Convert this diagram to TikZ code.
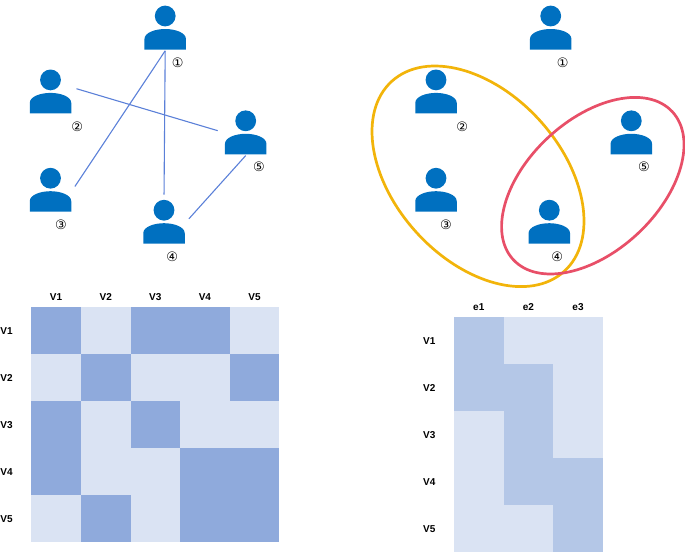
\documentclass[tikz,border=0pt]{standalone}
\usepackage{fontspec}
\setmainfont{Liberation Sans}
\newfontfamily\circfont{DejaVu Sans}
\usetikzlibrary{shapes.geometric}
\definecolor{personblue}{HTML}{0070C0}
\definecolor{edgeblue}{HTML}{5B80D8}
\definecolor{cellpale}{HTML}{DAE3F3}
\definecolor{celldark}{HTML}{8FAADC}
\definecolor{cellmid}{HTML}{B4C7E7}
\definecolor{hyperyellow}{HTML}{F2B40A}
\definecolor{hyperred}{HTML}{E84F68}
\tikzset{
	personnode/.style={rectangle, inner sep=0pt, minimum width=44pt, minimum height=46pt, path picture={
		\begin{scope}[shift={(path picture bounding box.center)}]
		\fill[personblue] (0,-11.6) circle (10.4pt);
		\fill[personblue] (-20.75,21.9) -- (-20.75,11.5) .. controls (-20.75,5) and (-10,1.4) .. (0,1.4) .. controls (10,1.4) and (20.75,5) .. (20.75,11.5) -- (20.75,21.9) -- cycle;
		\end{scope}}},
	numnode/.style={inner sep=0pt, font=\circfont\fontsize{13}{13}\selectfont},
	cellnode/.style={rectangle, inner sep=0pt, minimum width=49.6pt, minimum height=46.9pt},
	headnode/.style={inner sep=0pt, font=\bfseries\fontsize{10}{10}\selectfont}
}
\begin{document}
\begin{tikzpicture}[x=1pt,y=-1pt,edgeline/.style={edgeblue,line width=1.1pt}]
	\useasboundingbox (0,0) rectangle (685,552);
	% plain graph
	\path
	+(165.2,27.6)  node[personnode]  (a1) {}
	+(50.5,91.5)  node[personnode]  (a2) {}
	+(50.5,189.8)  node[personnode]  (a3) {}
	+(164,221.8)  node[personnode]  (a4) {}
	+(245.7,132.4)  node[personnode]  (a5) {}
	+(177.7,62.3)  node[numnode]  (na1) {①}
	+(77.3,126.7)  node[numnode]  (na2) {②}
	+(61,224.7)  node[numnode]  (na3) {③}
	+(172.3,256.3)  node[numnode]  (na4) {④}
	+(259,167)  node[numnode]  (na5) {⑤}
	;
	\draw[edgeline,shorten >=4pt] (a1.south)--(a3.east);
	\draw[edgeline,shorten >=4pt] (a1.south)--(a4.north);
	\draw[edgeline,shorten <=4pt,shorten >=6pt] (a2.10)--(a5.west);
	\draw[edgeline,shorten >=4pt] (a5.south)--(a4.east);
	% hypergraph
	\path
	+(550.7,27.6)  node[personnode]  (b1) {}
	+(436,91.5)  node[personnode]  (b2) {}
	+(436,189.8)  node[personnode]  (b3) {}
	+(549.3,221.8)  node[personnode]  (b4) {}
	+(631.3,132.4)  node[personnode]  (b5) {}
	+(562.7,62.3)  node[numnode]  (nb1) {①}
	+(462.3,126.7)  node[numnode]  (nb2) {②}
	+(446,224.7)  node[numnode]  (nb3) {③}
	+(557.3,256.3)  node[numnode]  (nb4) {④}
	+(644,167)  node[numnode]  (nb5) {⑤}
	+(478,176.3)  node[ellipse,draw=hyperyellow,line width=2.7pt,inner sep=0pt,minimum width=256.6pt,minimum height=166.6pt,rotate=-47.8]  (e1) {}
	+(592.8,185.7)  node[ellipse,draw=hyperred,line width=2.7pt,inner sep=0pt,minimum width=217.2pt,minimum height=131.4pt,rotate=43]  (e2) {}
	;
	% adjacency matrix
	\foreach \r in {1,...,5} {
		\node[headnode] (cv\r) at ({31.3+49.6*(\r-0.5)},297.3) {V\r};
		\node[headnode] (rv\r) at (6.5,{307.6+46.9*(\r-0.5)}) {V\r};
		\foreach \c in {1,...,5}
			\node[cellnode,fill=cellpale] (m\r\c) at ({31.3+49.6*(\c-0.5)},{307+46.9*(\r-0.5)}) {};
	}
	\foreach \r/\c in {1/1,1/3,1/4,2/2,2/5,3/1,3/3,4/1,4/4,4/5,5/2,5/4,5/5}
		\node[cellnode,fill=celldark] (d\r\c) at ({31.3+49.6*(\c-0.5)},{307+46.9*(\r-0.5)}) {};
	% incidence matrix
	\foreach \c in {1,2,3}
		\node[headnode] (ce\c) at ({454+49.6*(\c-0.5)},307.3) {e\c};
	\foreach \r in {1,...,5} {
		\node[headnode] (rw\r) at (429.3,{317.6+46.9*(\r-0.5)}) {V\r};
		\foreach \c in {1,2,3}
			\node[cellnode,fill=cellpale] (h\r\c) at ({454+49.6*(\c-0.5)},{317+46.9*(\r-0.5)}) {};
	}
	\foreach \r/\c in {1/1,2/1,2/2,3/2,4/2,4/3,5/3}
		\node[cellnode,fill=cellmid] (k\r\c) at ({454+49.6*(\c-0.5)},{317+46.9*(\r-0.5)}) {};
\end{tikzpicture}
\end{document}
